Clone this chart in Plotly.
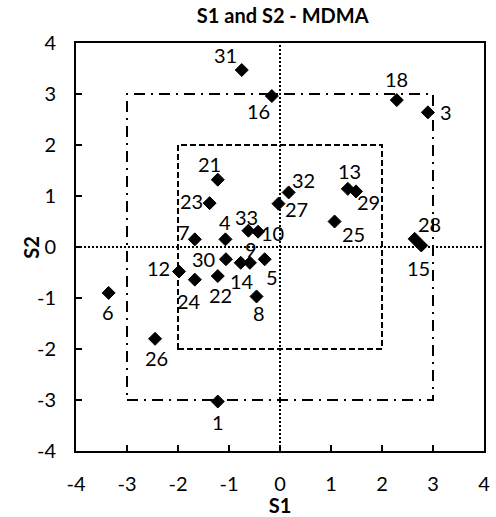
import plotly.graph_objects as go

# Sample scores on the two dimensions
ids = [1, 3, 4, 5, 6, 7, 8, 9, 10, 12, 13, 14, 15, 16, 18, 21, 22, 23,
       24, 25, 26, 27, 28, 29, 30, 31, 32, 33]
s1 = [-1.22, 2.90, -1.07, -0.30, -3.36, -1.67, -0.46, -0.59, -0.43, -1.98,
      1.33, -0.77, 2.77, -0.16, 2.29, -1.22, -1.22, -1.38, -1.67, 1.07,
      -2.45, -0.03, 2.64, 1.49, -1.06, -0.75, 0.17, -0.62]
s2 = [-3.03, 2.64, 0.15, -0.24, -0.90, 0.15, -0.97, -0.31, 0.30, -0.48,
      1.14, -0.31, 0.03, 2.96, 2.88, 1.32, -0.57, 0.86, -0.64, 0.50,
      -1.80, 0.85, 0.16, 1.09, -0.24, 3.47, 1.07, 0.32]

axis_ticks = [-4, -3, -2, -1, 0, 1, 2, 3, 4]
inner_limit = 2
outer_limit = 3

# Pixel offsets of each point label from its marker (dx right, dy down)
label_offsets = {
    1: (0, 20), 3: (18, 0), 4: (0, -17), 5: (7, 18), 6: (-1, 19),
    7: (-11, -7), 8: (2, 17), 9: (1, -14), 10: (14, 1), 12: (-21, -3),
    13: (2, -18), 14: (1, 18), 15: (-3, 23), 16: (-13, 15), 18: (0, -21),
    21: (-8, -16), 22: (3, 19), 23: (-18, -2), 24: (-6, 21), 25: (19, 12),
    26: (1, 19), 27: (18, 5), 28: (15, -15), 29: (13, 11), 30: (-22, 0),
    31: (-16, -15), 32: (15, -12), 33: (-2, -14),
}

FONT = "Lato"
TEXT_SIZE = 20

fig = go.Figure()

fig.add_trace(go.Scatter(
    x=s1, y=s2, mode="markers",
    marker=dict(symbol="diamond", size=10, color="black",
                line=dict(color="black", width=1)),
    showlegend=False, cliponaxis=False,
))

for i, x, y in zip(ids, s1, s2):
    dx, dy = label_offsets[i]
    fig.add_annotation(x=x, y=y, text=str(i), showarrow=False,
                       xshift=dx, yshift=-dy,
                       font=dict(family=FONT, size=TEXT_SIZE, color="black"))

# Reference boxes and zero lines
def square(lim, dash):
    fig.add_shape(type="rect", x0=-lim, x1=lim, y0=-lim, y1=lim,
                  line=dict(color="black", width=2, dash=dash), layer="below")

square(inner_limit, "6px,3px")
square(outer_limit, "11px,6px,2px,6px")
fig.add_shape(type="line", x0=0, x1=0, y0=-4, y1=4,
              line=dict(color="black", width=2, dash="2px,2px"), layer="below")
fig.add_shape(type="line", x0=-4, x1=4, y0=0, y1=0,
              line=dict(color="black", width=2, dash="2px,2px"), layer="below")

# Vertical axis title
fig.add_annotation(xref="paper", yref="paper", x=-0.111, y=0.5,
                   text="<b>S2</b>", textangle=-90, showarrow=False,
                   xanchor="center", yanchor="middle",
                   font=dict(family=FONT, size=TEXT_SIZE, color="black"))

axis_common = dict(
    range=[-4, 4], tickvals=axis_ticks, ticktext=[str(t) for t in axis_ticks],
    showgrid=False, zeroline=False, showline=True, linecolor="black",
    linewidth=2, mirror=True, ticks="inside", ticklen=6, tickwidth=1.5,
    tickcolor="black", tickfont=dict(family=FONT, size=TEXT_SIZE, color="black"),
    ticklabelstandoff=14,
)

fig.update_layout(
    width=496, height=517,
    margin=dict(l=76, r=6, t=43, b=64),
    paper_bgcolor="white", plot_bgcolor="white",
    title=dict(text="<b>S1 and S2 - MDMA</b>", x=0.57, xanchor="center",
               y=0.97, yanchor="middle",
               font=dict(family=FONT, size=TEXT_SIZE, color="black")),
    xaxis=dict(axis_common, title=dict(text="<b>S1</b>", standoff=2,
               font=dict(family=FONT, size=TEXT_SIZE, color="black"))),
    yaxis=dict(axis_common),
)

fig.write_html("out.html")
